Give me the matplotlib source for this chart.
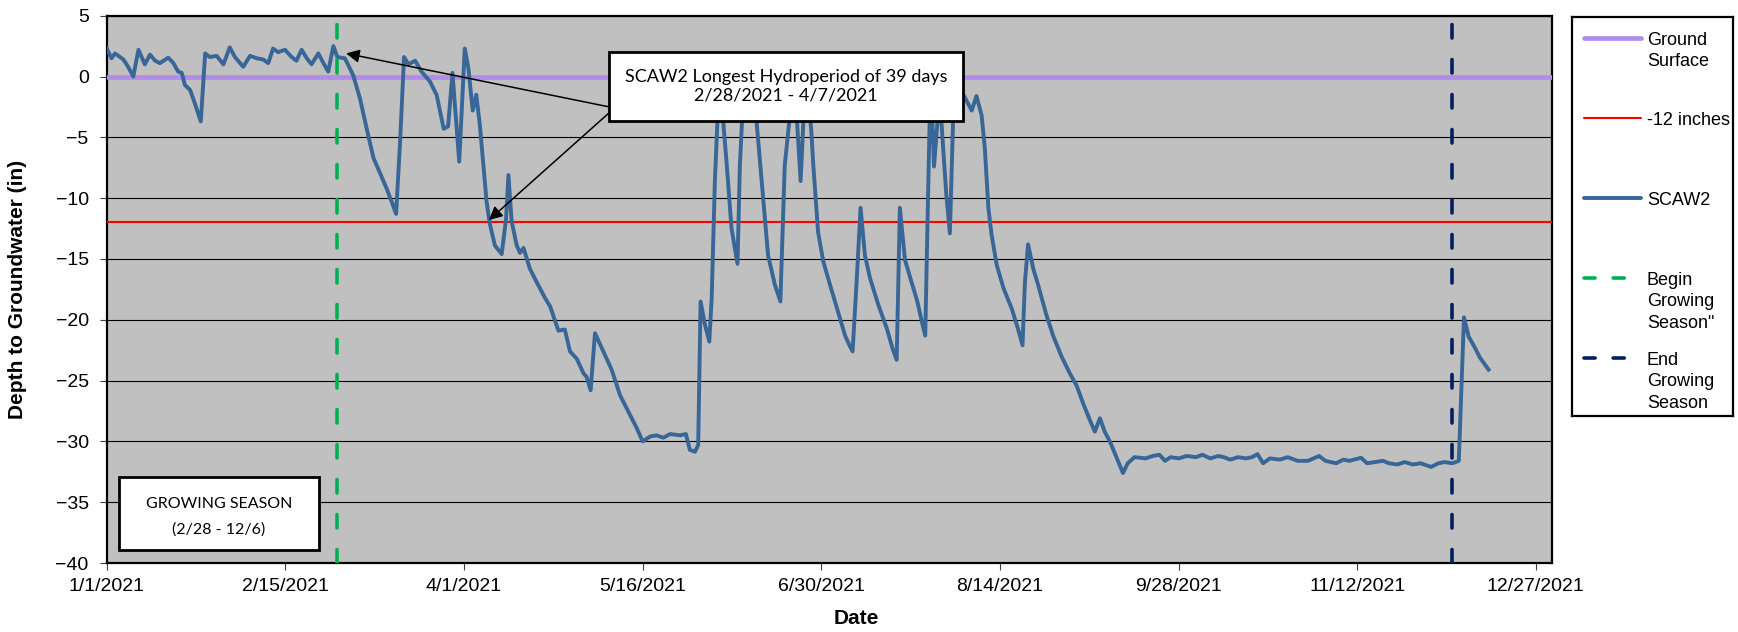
import numpy as np
import pandas as pd
import matplotlib
matplotlib.use('Agg')
import matplotlib.pyplot as plt
import matplotlib.dates as mdates
from matplotlib.patches import Rectangle
from matplotlib.ticker import FuncFormatter

plt.rcParams['font.family'] = ['Liberation Sans', 'DejaVu Sans']
plt.rcParams['lines.scale_dashes'] = False

# --- data (days after 1/1/2021, depth in inches) ---
start = pd.Timestamp('2021-01-01')
day_offset = [0, 1.2, 2.1, 4.2, 5.4, 6.7, 8.0, 9.6, 10.9, 12.2, 13.4, 15.5, 16.8, 18.0, 18.9,
              19.7, 21.0, 22.2, 23.7, 24.8, 26.0, 27.7, 29.4, 31.0, 32.3, 34.4, 36.1, 37.8,
              39.4, 40.7, 41.9, 43.2, 44.9, 46.6, 47.8, 49.1, 50.4, 51.6, 53.3, 54.6, 55.8,
              57.1, 58.1, 60.0, 62.1, 63.8, 65.5, 67.2, 68.8, 70.5, 71.8, 72.9, 73.9, 74.9,
              76.0, 77.7, 79.3, 81.4, 83.1, 84.9, 86.0, 87.1, 88.8, 90.2, 91.1, 92.2, 93.1,
              94.0, 94.9, 95.7, 96.5, 97.8, 99.5, 100.6, 101.2, 102.0, 103.3, 104.1, 105.0,
              106.6, 108.3, 110.4, 111.7, 113.8, 115.4, 116.7, 118.4, 120.1, 120.9, 121.9,
              123.0, 125.1, 127.2, 129.3, 131.8, 133.5, 135.0, 136.9, 138.5, 140.2, 141.9,
              144.4, 145.9, 146.9, 148.2, 149.0, 149.6, 150.7, 151.8, 152.4, 153.2, 154.2,
              155.3, 156.2, 157.4, 158.9, 159.5, 160.5, 162.3, 163.7, 165.0, 166.6, 168.3,
              169.7, 170.8, 172.1, 173.0, 173.9, 174.8, 175.5, 176.5, 177.5, 178.0, 179.2,
              180.5, 182.0, 184.0, 186.0, 187.1, 187.9, 188.9, 189.9, 191.0, 192.3, 194.4,
              196.5, 198.0, 199.0, 199.8, 201.1, 202.2, 204.2, 205.5, 206.2, 206.8, 207.3,
              207.7, 208.4, 209.4, 209.8, 210.7, 211.5, 212.4, 213.2, 214.0, 215.8, 217.9,
              219.1, 220.4, 221.2, 222.1, 222.9, 224.2, 225.9, 228.0, 229.6, 230.7, 231.3,
              232.1, 233.4, 234.6, 236.7, 238.4, 240.5, 242.6, 244.3, 246.0, 247.6, 248.9,
              250.2, 251.4, 252.7, 254.6, 256.0, 257.2, 258.9, 261.7, 263.5, 265.2, 266.6,
              268.0, 270.1, 272.0, 274.4, 276.0, 278.0, 280.0, 281.4, 283.0, 285.0, 287.0,
              288.5, 289.9, 291.3, 293.0, 295.5, 297.5, 300.0, 302.6, 304.0, 305.4, 307.0,
              309.7, 311.5, 313.0, 316.0, 317.5, 319.5, 321.5, 323.0, 325.1, 327.0, 329.0,
              331.0, 333.6, 335.5, 337.0, 339.0, 340.6, 341.9, 343.1, 344.5, 345.9, 348.1]
depth_in = [2.3, 1.5, 1.9, 1.4, 0.8, 0.0, 2.2, 1.0, 1.8, 1.3, 1.1, 1.55, 1.1, 0.4, 0.3,
            -0.7, -1.1, -2.2, -3.7, 1.9, 1.6, 1.7, 1.0, 2.4, 1.6, 0.8, 1.7, 1.5,
            1.4, 1.1, 2.3, 2.0, 2.2, 1.6, 1.3, 2.2, 1.5, 1.0, 1.9, 1.1, 0.4,
            2.5, 1.6, 1.5, 0.1, -1.8, -4.3, -6.7, -7.9, -9.2, -10.3, -11.3, -5.4, 1.6,
            1.0, 1.3, 0.4, -0.4, -1.5, -4.3, -4.1, 0.3, -7.0, 2.3, 0.7, -2.8, -1.5,
            -4.0, -7.3, -10.3, -12.1, -13.9, -14.6, -11.7, -8.1, -11.9, -13.9, -14.5, -14.1,
            -15.8, -16.9, -18.2, -18.9, -20.9, -20.8, -22.6, -23.2, -24.4, -24.7, -25.8,
            -21.1, -22.6, -24.1, -26.2, -27.8, -28.9, -30.0, -29.6, -29.5, -29.7, -29.4,
            -29.5, -29.4, -30.7, -30.85, -30.3, -18.5, -20.4, -21.8, -18.2, -8.6, -1.0,
            -3.7, -7.3, -12.5, -15.4, -7.3, -0.6, -1.8, -3.7, -8.6, -14.7, -17.1,
            -18.5, -7.3, -3.2, -1.0, -3.7, -8.6, -3.7, -1.0, -4.5, -7.3, -12.8,
            -15.2, -16.9, -19.1, -21.3, -22.1, -22.6, -16.9, -10.8, -14.7, -16.6, -18.8,
            -20.7, -22.4, -23.3, -10.8, -15.1, -16.3, -18.5, -20.4, -21.3, -11.4, -3.7,
            -1.0, -7.4, -3.2, -1.5, -5.9, -9.7, -12.9, -3.7, -0.5, -1.5, -2.8,
            -1.6, -3.2, -5.9, -10.8, -13.0, -15.5, -17.4, -19.1, -20.8, -22.1, -16.9,
            -13.8, -15.8, -17.1, -19.6, -21.3, -23.0, -24.4, -25.4, -26.9, -28.2, -29.2,
            -28.1, -29.2, -30.0, -31.5, -32.6, -31.8, -31.3, -31.4, -31.2, -31.1, -31.6,
            -31.3, -31.4, -31.2, -31.3, -31.1, -31.4, -31.2, -31.3, -31.5, -31.3, -31.4,
            -31.3, -31.05, -31.8, -31.4, -31.5, -31.3, -31.6, -31.6, -31.4, -31.2, -31.6,
            -31.8, -31.5, -31.6, -31.35, -31.8, -31.7, -31.6, -31.8, -31.9, -31.7, -31.9,
            -31.8, -32.1, -31.8, -31.7, -31.8, -31.6, -19.8, -21.4, -22.2, -23.1, -24.1]

ground_surface = 0
threshold = -12
season_begin = pd.Timestamp('2021-02-28')
season_end = pd.Timestamp('2021-12-06')
tick_dates = pd.date_range('2021-01-01', '2021-12-31', freq='45D')
y_ticks = list(range(-40, 6, 5))

legend_labels = ['Ground\nSurface', '-12 inches', 'SCAW2',
                 'Begin\nGrowing\nSeason"', 'End\nGrowing\nSeason']

c_ground = '#B08CEC'
c_red = '#FF0000'
c_scaw = '#386696'
c_green = '#00B050'
c_navy = '#002060'
dash = (0, (9.7, 15.5))

dates = start + pd.to_timedelta(day_offset, unit='D')

fig = plt.figure(figsize=(17.38, 6.32), dpi=100)
ax = fig.add_axes([106.7 / 1738, 69 / 632, 1445 / 1738, 547.3 / 632])
ax.set_facecolor('#C0C0C0')

ax.axhline(ground_surface, color=c_ground, lw=3.4, zorder=3)
ax.axhline(threshold, color=c_red, lw=1.5, zorder=3)
ax.plot(dates, depth_in, color=c_scaw, lw=2.8, zorder=4, solid_joinstyle='round')
ax.axvline(season_begin, color=c_green, lw=2.6, ls=dash, dash_capstyle='round', zorder=5)
ax.axvline(season_end, color=c_navy, lw=2.6, ls=dash, dash_capstyle='round', zorder=5)

ax.set_xlim(start, pd.Timestamp('2021-12-31'))
ax.set_ylim(-40, 5)
ax.set_yticks(y_ticks)
ax.set_xticks(tick_dates)
ax.xaxis.set_major_formatter(FuncFormatter(
    lambda v, p: (lambda d: f'{d.month}/{d.day}/{d.year}')(mdates.num2date(v))))
ax.yaxis.grid(True, color='black', lw=0.8)
ax.set_axisbelow(True)
for sp in ax.spines.values():
    sp.set_linewidth(1.6)
ax.tick_params(axis='both', direction='out', length=5, width=0.8, color='#404040',
               labelsize=14)
ax.tick_params(axis='y', pad=8)
ax.tick_params(axis='x', pad=6)

ax.set_xlabel('Date', fontsize=15, fontweight='bold')
ax.xaxis.label.set_va('center')
ax.xaxis.set_label_coords(0.5186, -0.1005)
ax.set_ylabel('Depth to Groundwater (in)', fontsize=15, fontweight='bold')
ax.yaxis.label.set_va('center')
ax.yaxis.set_label_coords(-0.062, 0.5)

# hydroperiod callout
box_font = ['Lato', 'DejaVu Sans']
ax.annotate('', xy=(start + pd.Timedelta(days=60.3), 1.9),
            xytext=(start + pd.Timedelta(days=126.6), -2.5),
            arrowprops=dict(arrowstyle='-|>', color='black', lw=1.1, mutation_scale=20,
                            shrinkA=0, shrinkB=0), zorder=6)
ax.annotate('', xy=(start + pd.Timedelta(days=96.3), -11.8),
            xytext=(start + pd.Timedelta(days=127.2), -2.8),
            arrowprops=dict(arrowstyle='-|>', color='black', lw=1.1, mutation_scale=20,
                            shrinkA=0, shrinkB=0), zorder=6)
b0 = start + pd.Timedelta(days=126.6)
b1 = start + pd.Timedelta(days=215.6)
ax.add_patch(Rectangle((mdates.date2num(b0), -3.66),
                       mdates.date2num(b1) - mdates.date2num(b0), 5.7,
                       facecolor='white', edgecolor='black', lw=2, zorder=7))
ax.text(start + pd.Timedelta(days=171.1), -0.8,
        'SCAW2 Longest Hydroperiod of 39 days\n2/28/2021 - 4/7/2021',
        ha='center', va='center', fontsize=13, family=box_font, linespacing=1.25, zorder=8)

# growing season box
g0 = start + pd.Timedelta(days=3.2)
g1 = start + pd.Timedelta(days=53.5)
ax.add_patch(Rectangle((mdates.date2num(g0), -38.9),
                       mdates.date2num(g1) - mdates.date2num(g0), 6.0,
                       facecolor='white', edgecolor='black', lw=2, zorder=7))
ax.text(start + pd.Timedelta(days=28.3), -36.2, 'GROWING SEASON\n(2/28 - 12/6)',
        ha='center', va='center', fontsize=11.5, family=box_font, linespacing=2.0, zorder=8)

# legend panel
lax = fig.add_axes([1572 / 1738, (632 - 416) / 632, (1733 - 1572) / 1738, (416 - 17) / 632])
lax.set_xlim(0, 161)
lax.set_ylim(399, 0)
lax.set_xticks([])
lax.set_yticks([])
for sp in lax.spines.values():
    sp.set_linewidth(1.6)
handle_styles = [dict(color=c_ground, lw=3.4),
                 dict(color=c_red, lw=1.5),
                 dict(color=c_scaw, lw=2.8),
                 dict(color=c_green, lw=2.6, ls=(0, (8, 13)), dash_capstyle='round'),
                 dict(color=c_navy, lw=2.6, ls=(0, (8, 13)), dash_capstyle='round')]
for i, (lab, st) in enumerate(zip(legend_labels, handle_styles)):
    y = 21 + 80 * i
    lax.plot([12, 69], [y, y], solid_capstyle='round', **st)
    lax.text(75, y - 6, lab, va='top', ha='left', fontsize=13, linespacing=1.34)

fig.savefig('out.png', dpi=100)
